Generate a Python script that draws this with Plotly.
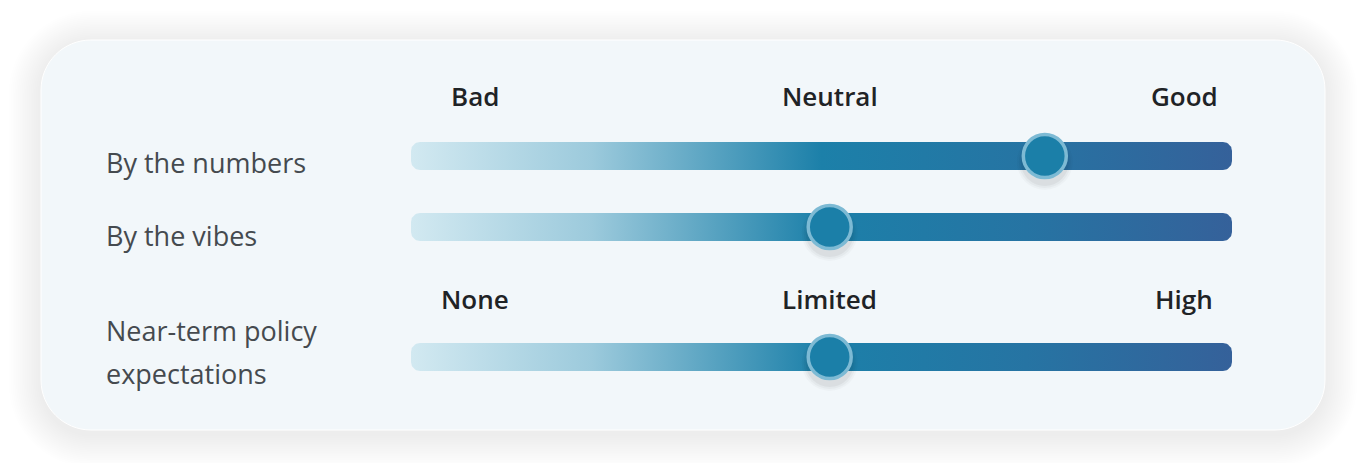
import plotly.graph_objects as go
import numpy as np

# ---------------- data ----------------
row_labels = ["By the numbers", "By the vibes", "Near-term policy<br>expectations"]
knob_values = [77.2, 51.0, 51.0]          # position of the knob on a 0-100 slider scale
scale_min, scale_max = 0, 100
header_sets = [["Bad", "Neutral", "Good"], None, ["None", "Limited", "High"]]
header_values = [7.8, 51.0, 94.2]         # where the header words sit on the 0-100 scale

# ---------------- layout constants ----------------
OFF = 8                                   # page body margin
W, H = 1350, 455
BAR_L_PX, BAR_R_PX = 411 - OFF, 1232 - OFF
row_y = [156 - OFF, 227 - OFF, 357 - OFF]
header_y = [96 - OFF, None, 299 - OFF]
label_y = [162 - OFF, 235 - OFF, 352 - OFF]
LINE_GAP = 43
LABEL_X = 104 - OFF
BAR_H = 28
BAR_R = 9
KNOB = 43
FONT = "Open Sans"

# x axis: 0..100 maps onto the bar in pixel space
ppu = (BAR_R_PX - BAR_L_PX) / (scale_max - scale_min)
x0 = scale_min - BAR_L_PX / ppu
x1 = x0 + W / ppu


def px2x(px):
    return x0 + px / ppu


def rrect_path(a, b, c, d, r, xconv=lambda v: v):
    k = 0.5523 * r
    P = lambda x, y: f"{xconv(x):.4f},{y:.3f}"
    return (f"M {P(a + r, b)} L {P(c - r, b)} C {P(c - r + k, b)} {P(c, b + r - k)} {P(c, b + r)} "
            f"L {P(c, d - r)} C {P(c, d - r + k)} {P(c - r + k, d)} {P(c - r, d)} "
            f"L {P(a + r, d)} C {P(a + r - k, d)} {P(a, d - r + k)} {P(a, d - r)} "
            f"L {P(a, b + r)} C {P(a, b + r - k)} {P(a + r - k, b)} {P(a + r, b)} Z")


def rrect_points(a, b, c, d, r, n=12):
    pts = []
    corners = [(c - r, b + r, -90, 0), (c - r, d - r, 0, 90), (a + r, d - r, 90, 180), (a + r, b + r, 180, 270)]
    for cx, cy, t0, t1 in corners:
        for t in np.linspace(np.radians(t0), np.radians(t1), n):
            pts.append((cx + r * np.cos(t), cy + r * np.sin(t)))
    pts.append(pts[0])
    xs = [px2x(p[0]) for p in pts]
    ys = [p[1] for p in pts]
    return xs, ys


fig = go.Figure()
shapes = []

# card shadow + card
CX0, CY0, CX1, CY1, CR = 41 - OFF, 40 - OFF, 1325 - OFF, 430 - OFF, 50
for i in range(18, 0, -1):
    d = i * 1.8
    shapes.append(dict(type="path", xref="x", yref="y", layer="below",
                       path=rrect_path(CX0 - d, CY0 - d + 3, CX1 + d, CY1 + d + 5, CR + d, px2x),
                       fillcolor="rgba(0,0,0,0.003)", line=dict(width=0)))
shapes.append(dict(type="path", xref="x", yref="y", layer="below",
                   path=rrect_path(CX0, CY0, CX1, CY1, CR, px2x),
                   fillcolor="#f2f7fa", line=dict(color="#ffffff", width=1)))

gradient = [[0.0, "#d2e9f1"], [0.22, "#9ccadc"], [0.5, "#1c80a9"], [0.75, "#2674a3"], [1.0, "#35619a"]]

for i, lab in enumerate(row_labels):
    yc = row_y[i]
    xs, ys = rrect_points(BAR_L_PX, yc - BAR_H / 2, BAR_R_PX, yc + BAR_H / 2, BAR_R)
    fig.add_trace(go.Scatter(x=xs, y=ys, mode="lines", fill="toself", line=dict(width=0),
                             fillgradient=dict(type="horizontal", colorscale=gradient),
                             hoverinfo="skip", showlegend=False))

# knob shadows
for s, a in [(56, 0.022), (52, 0.032), (48, 0.045)]:
    fig.add_trace(go.Scatter(x=knob_values, y=[y + 6 for y in row_y], mode="markers",
                             marker=dict(size=s, color=f"rgba(0,0,0,{a})", line=dict(width=0)),
                             hoverinfo="skip", showlegend=False))
# knobs
fig.add_trace(go.Scatter(x=knob_values, y=row_y, mode="markers",
                         marker=dict(size=KNOB, color="#1b7fa8", line=dict(color="#7dbad4", width=3.5)),
                         hoverinfo="skip", showlegend=False))

annotations = []
for i, lab in enumerate(row_labels):
    lines = lab.split("<br>")
    n = len(lines)
    for j, ln in enumerate(lines):
        yy = label_y[i] + (j - (n - 1) / 2) * LINE_GAP
        annotations.append(dict(x=px2x(LABEL_X), y=yy, xref="x", yref="y", text=ln, showarrow=False,
                                xanchor="left", yanchor="middle", align="left",
                                font=dict(family=FONT, size=27, color="#454a4f")))
    if header_sets[i]:
        for v, t in zip(header_values, header_sets[i]):
            annotations.append(dict(x=v, y=header_y[i], xref="x", yref="y", text=t, showarrow=False,
                                    xanchor="center", yanchor="middle",
                                    font=dict(family=FONT, size=26, color="#1f2326", weight=600)))

fig.update_layout(
    width=W, height=H, margin=dict(l=0, r=0, t=0, b=0),
    paper_bgcolor="white", plot_bgcolor="white",
    xaxis=dict(range=[x0, x1], visible=False, fixedrange=True),
    yaxis=dict(range=[H, 0], visible=False, fixedrange=True),
    shapes=shapes, annotations=annotations,
)
fig.write_html("out.html")
